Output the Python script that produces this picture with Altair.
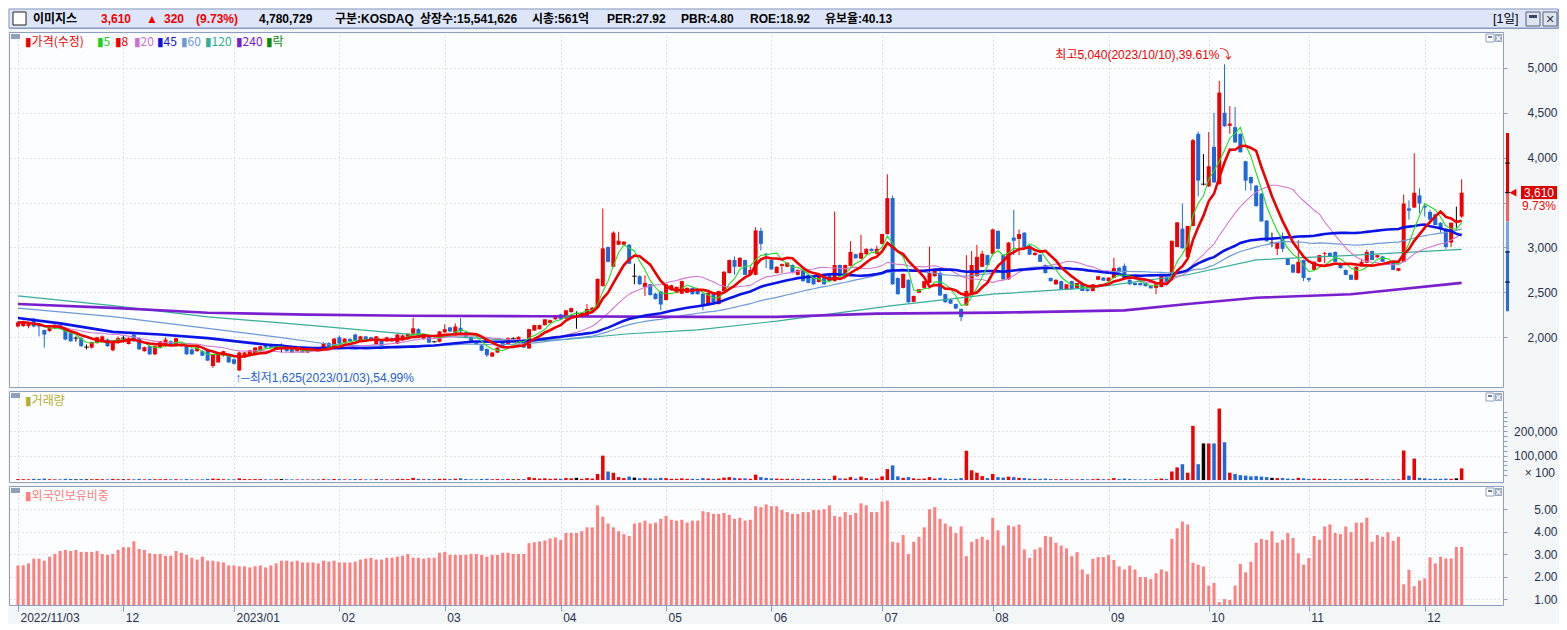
import altair as alt
import numpy as np
import pandas as pd

# ---------------- values (trading-day index 0 = 2022/11/03) ----------------
opens = [
 2120,2125,2125,2205,2150,2080,2070,2100,2135,2100,
 2045,1990,1990,1890,1885,1935,1955,1975,1855,1935,
 1990,1925,2030,1990,1845,1900,1810,1885,1900,1955,
 1920,1920,1900,1865,1845,1845,1865,1680,1720,1795,
 1790,1755,1630,1775,1795,1810,1845,1920,1925,1865,
 1875,1900,1900,1845,1885,1830,1860,1860,1865,1935,
 1900,2000,1935,1980,2030,1965,2010,2000,1920,1975,
 1955,1990,1930,1965,1980,2040,2090,1980,2010,1950,
 1950,2055,2110,2045,2105,2055,2005,1955,1910,1870,
 1785,1830,1940,1920,1985,1940,1975,1875,2075,2090,
 2135,2160,2200,2255,2210,2280,2265,2225,2235,2300,
 2330,2570,3005,2785,3030,3030,3030,2680,2680,2560,
 2590,2485,2510,2415,2525,2495,2485,2495,2550,2535,
 2485,2355,2500,2370,2515,2715,2860,2785,2860,2695,
 2695,3185,2930,2860,2715,2795,2785,2805,2695,2750,
 2695,2680,2615,2695,2695,2625,2805,2695,2795,2925,
 2875,2925,2985,2930,3040,3150,3550,2660,2550,2640,
 2395,2495,2550,2605,2680,2715,2480,2420,2370,2315,
 2355,2480,2680,2785,2915,2930,3185,2915,2645,3110,
 3095,3165,3020,2915,2920,2805,2660,2590,2625,2535,
 2625,2550,2605,2535,2515,2640,2665,2625,2660,2775,
 2795,2640,2605,2605,2605,2570,2550,2560,2660,2660,
 3005,3210,2895,3240,4265,3705,3680,4120,3705,4500,
 4355,4340,4265,3960,3785,3690,3600,3300,3050,2985,
 3110,2875,2810,2715,2860,2660,2750,2840,2930,2940,
 2950,2830,2750,2695,2640,2805,2830,2960,2890,2900,
 2840,2830,2740,2840,3435,3445,3580,3465,3395,3370,
 3275,3210,3055,3290,3345]
highs = [
 2180,2185,2160,2215,2160,2085,2115,2145,2140,2110,
 2060,2010,2000,1920,1950,2005,2020,1985,1960,2010,
 2020,2000,2035,2000,1895,1910,1905,1960,2000,1965,
 1995,1930,1910,1875,1890,1855,1870,1815,1835,1850,
 1800,1765,1840,1835,1860,1890,1905,1925,1930,1925,
 1930,1910,1905,1890,1890,1870,1870,1870,1945,1945,
 1990,2020,1990,1990,2040,2015,2015,2005,2015,1980,
 2005,1995,2035,2030,2045,2220,2100,2035,2015,1960,
 2070,2145,2115,2155,2215,2065,2010,1960,1915,1875,
 1835,1890,1945,2000,2000,2010,1980,2095,2140,2140,
 2200,2195,2250,2260,2305,2330,2290,2275,2370,2335,
 2655,3435,3010,3180,3175,3070,3040,2820,2690,2690,
 2595,2495,2515,2595,2585,2565,2630,2555,2555,2540,
 2490,2500,2505,2520,2735,2865,2900,2890,2865,2785,
 3225,3220,2940,2865,2790,2820,2835,2810,2755,2755,
 2700,2685,2680,2700,2700,3400,2810,2810,3070,2930,
 3140,2990,2990,3020,3150,3815,3580,2665,2710,2645,
 2465,2535,2625,3010,2750,2750,2485,2425,2375,2320,
 2915,2960,3030,2965,2920,3210,3190,2920,3060,3420,
 3200,3170,3025,2945,2925,2810,2665,2645,2630,2590,
 2630,2605,2610,2540,2590,2680,2670,2665,2885,2780,
 2820,2645,2610,2610,2610,2575,2590,2680,2665,3075,
 3280,3490,3240,4210,4290,4040,4285,4500,4855,5040,
 4575,4565,4270,3965,3790,3695,3605,3305,3165,3060,
 3165,2880,2815,3080,2865,2665,2845,2915,2950,2945,
 2955,2835,2755,2700,2790,2875,2975,2965,2915,2905,
 2845,2835,2770,3590,3525,4050,3660,3490,3420,3375,
 3280,3215,3280,3455,3760]
lows = [
 2110,2115,2100,2110,2010,1885,2060,2090,2085,1965,
 1950,1950,1895,1865,1875,1930,1950,1895,1845,1930,
 1940,1920,1950,1860,1840,1805,1800,1875,1895,1905,
 1915,1895,1805,1805,1840,1790,1735,1660,1715,1785,
 1715,1695,1625,1770,1790,1805,1840,1875,1875,1860,
 1830,1840,1825,1840,1825,1825,1850,1850,1860,1885,
 1895,1925,1930,1950,1960,1960,1960,1970,1915,1885,
 1950,1950,1925,1960,1975,2030,1995,1975,1935,1940,
 1945,2050,2060,2040,2030,1990,1945,1915,1845,1780,
 1780,1825,1880,1915,1970,1935,1880,1870,2070,2085,
 2130,2155,2195,2195,2205,2275,2095,2220,2230,2295,
 2325,2565,2835,2780,3025,3025,2815,2590,2585,2460,
 2465,2420,2300,2410,2520,2490,2480,2490,2475,2475,
 2300,2350,2365,2365,2510,2710,2695,2780,2690,2690,
 2690,2965,2770,2750,2710,2715,2780,2710,2690,2620,
 2600,2585,2610,2585,2620,2620,2675,2690,2790,2875,
 2870,2920,2955,2925,3035,3145,2585,2475,2545,2385,
 2390,2490,2545,2600,2675,2460,2385,2370,2315,2180,
 2350,2475,2675,2780,2800,2910,2980,2640,2640,2915,
 2915,3000,2915,2910,2840,2710,2620,2585,2530,2530,
 2530,2545,2515,2510,2510,2635,2630,2620,2655,2720,
 2655,2585,2580,2575,2565,2545,2480,2555,2605,2655,
 3000,2990,2890,3235,3570,3690,3675,3720,3700,4345,
 4265,4165,4060,3635,3635,3455,3290,3065,3005,2915,
 2950,2805,2720,2710,2625,2615,2745,2835,2825,2895,
 2840,2765,2695,2640,2635,2800,2825,2860,2885,2840,
 2805,2750,2735,2835,3310,3440,3380,3345,3265,3250,
 3165,2985,3005,3220,3330]
closes = [
 2165,2170,2150,2120,2120,2030,2105,2135,2095,1975,
 1955,1990,1900,1890,1945,2000,2010,1900,1955,1990,
 1990,1990,1955,1865,1890,1810,1900,1955,1975,1910,
 1990,1900,1810,1810,1885,1795,1740,1810,1830,1845,
 1720,1705,1830,1830,1855,1885,1900,1885,1885,1920,
 1875,1845,1830,1885,1830,1865,1860,1860,1935,1890,
 1985,1930,1985,1955,1965,2010,1965,1975,2010,1890,
 2000,1955,2030,2020,2040,2100,2000,2030,1940,1950,
 2065,2090,2065,2120,2065,1995,1950,1920,1850,1800,
 1830,1885,1885,1990,1985,2005,1885,2090,2135,2135,
 2200,2190,2245,2200,2300,2325,2265,2270,2315,2330,
 2650,2990,2840,3165,3075,3065,2820,2680,2590,2605,
 2470,2425,2365,2590,2580,2560,2625,2550,2480,2480,
 2355,2495,2370,2515,2730,2860,2785,2885,2695,2750,
 3190,3040,2915,2755,2785,2815,2830,2715,2750,2625,
 2605,2590,2680,2590,2625,2805,2680,2805,2950,2880,
 2940,2985,2960,2985,3150,3550,2590,2480,2705,2390,
 2460,2535,2625,2715,2750,2465,2390,2375,2320,2225,
 2515,2805,2895,2930,2805,3200,2985,2645,3055,3075,
 3150,3005,2920,2940,2840,2715,2625,2640,2535,2590,
 2535,2605,2515,2515,2590,2680,2630,2665,2770,2725,
 2660,2590,2580,2580,2570,2545,2590,2680,2605,3075,
 3280,2990,3240,4195,3745,3705,3905,3725,4725,4350,
 4380,4170,4060,3745,3715,3460,3290,3070,3050,3055,
 2985,2805,2720,2840,2660,2640,2840,2915,2940,2895,
 2840,2770,2695,2640,2785,2840,2950,2860,2915,2840,
 2805,2750,2770,3490,3410,3610,3490,3445,3310,3250,
 3200,3005,3275,3290,3610]
# volume in axis units (x100 shares)
volumes = [
 4000,3500,3000,5000,4500,6000,3500,3000,3000,5000,
 4500,3000,4000,3000,3500,4000,3500,3000,4500,3500,
 3000,3500,3000,4500,3000,4000,3500,3500,4000,3000,
 3500,2500,4000,3000,2500,3000,4500,6000,5000,3500,
 3000,3000,7000,4000,3500,4000,4000,3000,3000,3500,
 4000,3000,3000,2500,3000,2500,2000,2000,4000,3000,
 4500,3500,3000,3000,4000,3500,3000,2500,4000,3500,
 3000,3000,4500,4000,4000,9000,5000,3500,4000,2500,
 5000,5000,4000,5500,7000,4000,3500,3000,4500,5000,
 3500,4000,3500,4500,3000,4000,4000,12000,8000,6000,
 7000,5000,6000,5500,8000,7000,9000,5000,8000,6000,
 25000,100000,35000,30000,12000,8000,14000,10000,7000,8000,
 7000,6000,9000,8000,5000,5000,7000,5000,5000,4000,
 8000,6000,5000,6000,10000,12000,9000,7000,7000,5000,
 22000,12000,9000,7000,6000,5000,5000,5000,4000,5000,
 5000,4500,4500,5000,4000,18000,7000,6000,12000,6000,
 14000,8000,5000,6000,15000,45000,60000,15000,9000,12000,
 7000,5000,6000,12000,6000,9000,6000,4000,5000,8000,
 120000,40000,30000,16000,8000,25000,12000,10000,14000,12000,
 9000,8000,6000,4000,5000,6000,4000,3500,4000,3500,
 3500,3000,4000,3000,3500,5000,3500,3000,8000,4000,
 6000,4000,3000,2500,3000,2500,4000,6000,4000,35000,
 52000,65000,30000,222000,65000,150000,150000,150000,293000,155000,
 30000,25000,20000,18000,15000,16000,14000,12000,9000,8000,
 8000,6000,5000,9000,7000,5000,6000,5000,5000,4000,
 4000,4000,3500,3500,5000,4000,6000,4000,3000,3500,
 3000,3500,3000,121000,18000,88000,9000,7000,5000,5000,
 5000,6000,5000,7000,47807]
# foreign ownership ratio (%)
foreign = [
 2.50,2.50,2.59,2.80,2.80,2.71,2.89,3.01,3.14,3.19,
 3.14,3.19,3.10,3.10,3.10,3.14,3.01,2.97,3.01,3.19,
 3.31,3.31,3.57,3.23,3.19,3.04,3.01,3.01,2.93,2.93,
 3.14,3.06,2.97,2.84,2.76,2.89,2.71,2.71,2.67,2.63,
 2.50,2.50,2.46,2.46,2.41,2.46,2.50,2.41,2.50,2.59,
 2.71,2.71,2.67,2.71,2.63,2.63,2.63,2.59,2.71,2.67,
 2.71,2.63,2.63,2.63,2.67,2.76,2.80,2.84,2.76,2.76,
 2.84,2.84,2.89,2.93,3.01,2.84,2.84,2.80,2.84,2.84,
 3.06,3.10,2.97,2.97,2.97,2.97,3.01,3.01,2.97,2.89,
 2.97,2.97,3.06,3.06,3.01,3.01,3.01,3.49,3.53,3.57,
 3.61,3.70,3.74,3.63,3.94,3.94,3.94,4.02,4.19,4.19,
 5.17,4.66,4.36,4.19,4.02,3.89,3.81,4.36,4.40,4.49,
 4.36,4.40,4.57,4.70,4.53,4.49,4.53,4.40,4.49,4.49,
 4.91,4.87,4.79,4.79,4.83,4.74,4.57,4.62,4.49,4.53,
 5.13,5.09,5.21,5.13,5.13,4.96,4.87,4.79,4.79,4.87,
 4.87,4.96,4.96,5.00,5.17,4.70,4.66,4.87,4.74,4.83,
 5.26,5.17,4.87,4.87,5.34,5.38,3.55,3.51,3.85,3.00,
 3.55,3.77,4.19,5.00,5.09,4.57,4.36,4.23,3.94,4.23,
 2.91,3.55,3.68,3.77,3.64,4.62,4.06,3.38,4.28,4.23,
 4.32,3.21,2.83,3.21,3.30,3.81,3.77,3.51,3.38,3.26,
 2.91,3.09,2.32,2.11,2.79,2.87,2.87,2.96,2.74,2.45,
 2.32,2.49,2.32,1.98,1.98,1.89,2.15,2.32,2.23,3.68,
 4.15,4.45,4.32,2.62,2.53,2.45,1.60,1.72,0.87,1.00,
 0.96,1.60,2.57,2.19,2.66,3.51,3.68,3.64,4.02,3.51,
 3.64,3.94,3.72,3.04,2.53,2.83,3.81,3.64,4.23,4.32,
 3.94,3.89,4.23,3.98,4.40,4.40,4.62,3.55,3.85,3.77,
 3.98,3.60,3.77,1.66,2.31,1.58,1.83,1.92,2.86,2.59,
 2.89,2.81,2.81,3.32,3.32]

month_idx = [0, 20, 41, 61, 81, 103, 123, 143, 164, 185, 207, 226, 245, 267]
month_lbl = ['2022/11/03', '12', '2023/01', '02', '03', '04', '05', '06', '07', '08', '09', '10', '11', '12']

# long moving averages (need history before the window)
ma45_early_idx = [0, 8, 18, 27, 36]
ma45_early_val = [2215, 2155, 2060, 2030, 1990]
ma60_early_idx = [0, 18, 36, 50]
ma60_early_val = [2325, 2230, 2100, 1995]
ma120_idx = [0, 18, 36, 55, 74, 97, 104, 116, 129, 144, 166, 185, 204, 222, 235, 253, 274]
ma120_val = [2461, 2353, 2226, 2136, 2035, 1956, 1975, 2039, 2082, 2180, 2353, 2480, 2552, 2696, 2862, 2913, 2978]
ma240_idx = [0, 18, 36, 55, 74, 98, 129, 144, 163, 186, 210, 222, 235, 253, 274]
ma240_val = [2371, 2327, 2273, 2252, 2240, 2234, 2227, 2227, 2263, 2274, 2299, 2371, 2440, 2479, 2606]

# price band indicator on the right axis
band_lo = [3610, 3290, 2960, 2290]
band_hi = [4275, 3610, 3290, 2960]
band_col = ['#e80000', '#f26060', '#78a4e6', '#2a6bd6']
band_ticks = [3940, 3610, 2950, 2615]

# ---------------- tables ----------------
n = min(len(opens), len(highs), len(lows), len(closes), len(volumes), len(foreign))
idx = list(range(n))
df = pd.DataFrame({'i': idx, 'o': opens[:n], 'h': highs[:n], 'l': lows[:n],
                   'c': closes[:n], 'v': volumes[:n], 'f': foreign[:n]})
df['dir'] = np.where(df['c'] > df['o'], 'up', np.where(df['c'] < df['o'], 'down', 'flat'))

s = pd.Series(closes[:n], dtype=float)
def ma_df(w):
    return pd.DataFrame({'i': idx, 'val': s.rolling(w, min_periods=1).mean()})
def ma_mixed(w, e_idx, e_val):
    full = s.rolling(w).mean()
    a = pd.DataFrame({'i': e_idx, 'val': e_val})
    b = pd.DataFrame({'i': idx, 'val': full}).dropna()
    return pd.concat([a, b]).sort_values('i')

ma_tables = [
    (pd.DataFrame({'i': ma120_idx, 'val': ma120_val}), '#35ad99', 1.2),
    (ma_mixed(60, ma60_early_idx, ma60_early_val), '#6d9ad6', 1.2),
    (ma_df(20), '#d27bd2', 1.1),
    (pd.DataFrame({'i': ma240_idx, 'val': ma240_val}), '#7a1fd0', 2.6),
    (ma_mixed(45, ma45_early_idx, ma45_early_val), '#0a14e6', 2.6),
    (ma_df(5), '#22dd22', 1.1),
    (ma_df(8), '#ee0000', 2.6),
]

# ---------------- styling ----------------
W = 1494
H_HEAD, H_PRICE, H_VOL, H_FOR = 19, 355, 91, 119
RED, BLUE = '#f00000', '#1f68d8'
GRID, BORDER, LABEL = '#c3c8d2', '#8d9dbd', '#27314d'
FONT = 'Liberation Sans, Noto Sans CJK KR, DejaVu Sans, sans-serif'
KFONT = 'Noto Sans CJK KR, Liberation Sans, DejaVu Sans, sans-serif'
EMPTY = alt.Data(values=[{}])

X_SCALE = alt.Scale(domain=[-0.75, 280.9], nice=False, zero=False)
x_grid_axis = alt.Axis(values=month_idx, grid=True, gridColor=GRID, gridDash=[1, 3],
                       labels=False, ticks=False, domain=False, title=None)
lbl_expr = ("[" + ",".join("'%s'" % t for t in month_lbl) + "][indexof([" +
            ",".join(str(v) for v in month_idx) + "], datum.value)]")
x_bottom_axis = alt.Axis(values=month_idx, grid=True, gridColor=GRID, gridDash=[1, 3],
                         labelExpr=lbl_expr, ticks=True, tickSize=6, tickColor=BORDER,
                         domain=False, labelAlign='left', labelBaseline='top', labelOffset=2,
                         labelPadding=1, labelFont=FONT, labelFontSize=12, labelColor=LABEL,
                         labelOverlap=False, title=None)

dir_color = alt.Color('dir:N', scale=alt.Scale(domain=['up', 'down', 'flat'],
                                               range=[RED, BLUE, '#000000']), legend=None)

def ptext(t, x, y, color, size=12, weight='normal', align='left', baseline='middle', font=FONT):
    return alt.Chart(EMPTY).mark_text(text=t, align=align, baseline=baseline, color=color,
                                      fontSize=size, fontWeight=weight, font=font).encode(
        x=alt.value(x), y=alt.value(y))

def prect(x1, x2, y1, y2, fill, stroke=None):
    kw = dict(fill=fill)
    if stroke:
        kw.update(stroke=stroke, strokeWidth=1)
    return alt.Chart(EMPTY).mark_rect(**kw).encode(
        x=alt.value(x1), x2=alt.value(x2), y=alt.value(y1), y2=alt.value(y2))

def panel_icons(label, color):
    out = [prect(2, 11, 2, 7, '#8fa0bf')]
    if label:
        out.append(ptext('▮' + label, 16, 10, color, 12, font=KFONT))
    out += [prect(W - 17, W - 9, 2, 10, '#ffffff', '#8fa0bf'),
            prect(W - 15, W - 11, 4, 6, '#6b7a99'),
            prect(W - 8, W - 1, 2, 10, '#9aa8c4'),
            ptext('×', W - 4.5, 6.5, '#ffffff', 10, 'bold', align='center')]
    return out

# ---------------- header ----------------
hdr_layers = [prect(0, W + 55, 0, H_HEAD, '#dce6f8', '#8799c0'),
              prect(4, 17, 3, 16, '#ffffff', '#222222')]
hdr_items = [(24, '이미지스', '#000000'), (92, '3,610', RED), (137, '▲', RED), (155, '320', RED),
             (187, '(9.73%)', RED), (250, '4,780,729', '#000000'), (326, '구분:KOSDAQ', '#000000'),
             (411, '상장수:15,541,626', '#000000'), (523, '시총:561억', '#000000'),
             (598, 'PER:27.92', '#000000'), (672, 'PBR:4.80', '#000000'),
             (741, 'ROE:18.92', '#000000'), (816, '유보율:40.13', '#000000')]
for x, t, col in hdr_items:
    hdr_layers.append(ptext(t, x, 10, col, 12, 'bold'))
hdr_layers += [ptext('[1일]', W - 10, 10, '#000000', 12.5),
               prect(W + 23, W + 37, 3, 17, '#dfe5ee', '#55617a'),
               prect(W + 26, W + 34, 6, 9, '#3a4660'),
               prect(W + 40, W + 54, 3, 17, '#dfe5ee', '#55617a'),
               ptext('✕', W + 47, 10.5, '#2a3550', 11, 'bold', align='center')]
header = alt.layer(*hdr_layers).properties(width=W + 55, height=H_HEAD)

# ---------------- price panel ----------------
p_scale = alt.Scale(domain=[1446, 5400], nice=False, zero=False)
p_axis = alt.Axis(orient='right', values=[2000, 2500, 3000, 3500, 4000, 4500, 5000],
                  labelExpr="datum.value == 3500 ? '' : format(datum.value, ',')",
                  grid=True, gridColor=GRID, gridDash=[1, 3], domain=False, ticks=True,
                  tickColor=BORDER, tickSize=4, labelAlign='right', labelPadding=50,
                  labelFont=FONT, labelFontSize=12, labelColor=LABEL, title=None)
X = alt.X('i:Q', scale=X_SCALE, axis=x_grid_axis)
def PY(field):
    return alt.Y(field, scale=p_scale, axis=p_axis)

base = alt.Chart(df)
wick = base.mark_rule(strokeWidth=1, clip=True).encode(x=X, y=PY('l:Q'), y2='h:Q', color=dir_color)
body = base.mark_bar(size=4, orient='vertical', clip=True).encode(x=X, y=PY('o:Q'), y2='c:Q', color=dir_color)
doji = base.transform_filter("datum.dir == 'flat'").mark_tick(
    orient='horizontal', size=5, thickness=1.2, color='#000000').encode(x=X, y=PY('c:Q'))

ma_layers = [alt.Chart(t).mark_line(color=col, strokeWidth=sw, clip=True).encode(x=X, y=PY('val:Q'))
             for t, col, sw in ma_tables]

hi_i = int(np.argmax(highs[:n])); lo_i = int(np.argmin(lows[:n]))
hi_df = pd.DataFrame({'i': [hi_i], 'p': [highs[hi_i]]})
lo_df = pd.DataFrame({'i': [lo_i], 'p': [lows[lo_i]]})
hi_txt = alt.Chart(hi_df).mark_text(text='최고5,040(2023/10/10),39.61%⤵', align='right',
                                    baseline='bottom', dx=7, dy=-2, color=RED, font=FONT,
                                    fontSize=12).encode(x=X, y=PY('p:Q'))
lo_txt = alt.Chart(lo_df).mark_text(text='↑─최저1,625(2023/01/03),54.99%', align='left',
                                    baseline='top', dx=-4, dy=2, color='#1f5fd0', font=FONT,
                                    fontSize=12).encode(x=X, y=PY('p:Q'))

band_df = pd.DataFrame({'lo': band_lo, 'hi': band_hi, 'col': band_col})
band = alt.Chart(band_df).mark_rect(clip=False).encode(
    x=alt.value(W + 3), x2=alt.value(W + 6), y=PY('lo:Q'), y2='hi:Q',
    color=alt.Color('col:N', scale=None))
bt = alt.Chart(pd.DataFrame({'t': band_ticks})).mark_rule(color='#000000', strokeWidth=1, clip=False).encode(
    x=alt.value(W + 2), x2=alt.value(W + 7), y=PY('t:Q'))

cur_df = pd.DataFrame({'p': [closes[n - 1]]})
cur = alt.Chart(cur_df)
tri = cur.mark_point(shape='triangle-left', size=60, filled=True, color=RED, opacity=1,
                     clip=False).encode(x=alt.value(W + 10), y=PY('p:Q'))
box = cur.mark_point(shape='M-1,-0.37L1,-0.37L1,0.37L-1,0.37Z', size=36 * 36, filled=True,
                     color='#e00000', opacity=1, clip=False).encode(x=alt.value(W + 36), y=PY('p:Q'))
box_txt = cur.mark_text(text='{:,}'.format(closes[n - 1]), color='#ffffff', font=FONT,
                        fontSize=12, align='center', baseline='middle').encode(
    x=alt.value(W + 36), y=PY('p:Q'))
pct_bg = cur.mark_point(shape='M-1,-0.35L1,-0.35L1,0.35L-1,0.35Z', size=36 * 36, filled=True,
                        color='#ffffff', opacity=1, yOffset=13, clip=False).encode(
    x=alt.value(W + 36), y=PY('p:Q'))
pct_txt = cur.mark_text(text='9.73%', color=RED, font=FONT, fontSize=12, align='center',
                        baseline='middle', dy=13).encode(x=alt.value(W + 36), y=PY('p:Q'))

legend_items = [(16, '▮가격(수정)', RED), (88, '▮5', '#1ed01e'), (106, '▮8', RED),
                (125, '▮20', '#d070d0'), (148, '▮45', '#1010e0'), (172, '▮60', '#6d9ad6'),
                (196, '▮120', '#35ad99'), (227, '▮240', '#7a1fd0'), (257, '▮락', '#0a8a0a')]
legend_layers = [ptext(t, x, 10, col, 12, font=KFONT) for x, t, col in legend_items]

price = alt.layer(wick, body, doji, *ma_layers, hi_txt, lo_txt, band, bt, tri, box, box_txt,
                  pct_bg, pct_txt, *legend_layers, *panel_icons('', RED)).properties(width=W, height=H_PRICE)

# ---------------- volume panel ----------------
v_scale = alt.Scale(domain=[-8000, 365000], nice=False, zero=False)
v_axis = alt.Axis(orient='right', values=list(range(20000, 300000, 20000)),
                  labelExpr="datum.value % 100000 == 0 ? format(datum.value, ',') : ''",
                  grid=True, gridColor=GRID, gridDash=[1, 3],
                  gridOpacity={'condition': {'test': 'datum.value % 100000 == 0', 'value': 1}, 'value': 0},
                  domain=False, ticks=True, tickColor=BORDER, tickSize=4, labelAlign='right',
                  labelPadding=50, labelFont=FONT, labelFontSize=12, labelColor=LABEL, title=None)
vol_bars = alt.Chart(df).mark_bar(size=3.5, orient='vertical', clip=True).encode(
    x=X, y=alt.Y('v:Q', scale=v_scale, axis=v_axis), y2=alt.datum(0), color=dir_color)
volume = alt.layer(vol_bars, ptext('× 100', W + 52, H_VOL - 9, LABEL, 12, align='right'),
                   *panel_icons('거래량', '#b5ad2c')).properties(width=W, height=H_VOL)

# ---------------- foreign ownership panel ----------------
f_scale = alt.Scale(domain=[0.74, 6.03], nice=False, zero=False)
f_axis = alt.Axis(orient='right', values=[1, 2, 3, 4, 5], format='.2f', grid=True,
                  gridColor=GRID, gridDash=[1, 3], domain=False, ticks=True, tickColor=BORDER,
                  tickSize=4, labelAlign='right', labelPadding=50, labelFont=FONT,
                  labelFontSize=12, labelColor=LABEL, title=None)
f_bars = alt.Chart(df).mark_bar(size=3, orient='vertical', color='#ff7f7f', clip=True).encode(
    x=alt.X('i:Q', scale=X_SCALE, axis=x_bottom_axis),
    y=alt.Y('f:Q', scale=f_scale, axis=f_axis), y2=alt.datum(0.74))
foreign_p = alt.layer(f_bars, *panel_icons('외국인보유비중', '#ff7f7f')).properties(width=W, height=H_FOR)

chart = alt.vconcat(header, price, volume, foreign_p, spacing=2).properties(
    padding=0, background='#f3f6f6'
).configure_view(stroke=BORDER, strokeWidth=1, fill='#fcfdfe')

chart.save("out.html", embed_options={"renderer": "svg", "actions": False})
